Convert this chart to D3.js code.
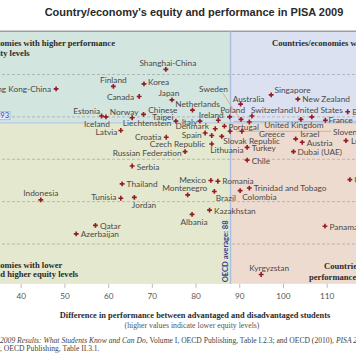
<!DOCTYPE html>
<html><head><meta charset="utf-8">
<script src="https://cdn.jsdelivr.net/npm/d3@7"></script>
<style>body{margin:0;background:#fff}svg{display:block}</style>
</head><body><svg id="c" width="356" height="364"></svg>
<script>
// ---------------- DATA ----------------
const countries = ["Shanghai-China","Finland","Korea","Hong Kong-China","Canada","Japan","Netherlands","Estonia","Iceland","Liechtenstein","Norway","Chinese Taipei","Sweden","Australia","Singapore","New Zealand","Poland","Switzerland","United Kingdom","Ireland","Denmark","Italy","Portugal","Slovenia","Greece","Germany","United States","France","Belgium","Israel","Austria","Luxembourg","Dubai (UAE)","Turkey","Chile","Croatia","Latvia","Spain","Czech Republic","Slovak Republic","Lithuania","Russian Federation","Serbia","Thailand","Tunisia","Jordan","Indonesia","Qatar","Azerbaijan","Mexico","Romania","Montenegro","Brazil","Colombia","Trinidad and Tobago","Kazakhstan","Albania","Panama","Kyrgyzstan","Uruguay"];
// Difference in performance between advantaged and disadvantaged students
const performanceGap = [73.2,61.2,68.2,48.1,67.1,74.6,79.3,58.5,59.5,65.5,68.1,75.5,90.4,90.3,97.3,103.4,87.8,92.9,92.3,85.2,81.0,84.5,86.6,87.9,90.6,104.1,106.6,109.7,114.8,102.9,104.4,114.4,102.4,91.8,91.8,73.3,62.9,82.2,83.7,86.0,83.7,77.6,65.5,63.2,62.9,66.0,44.6,57.1,52.7,83.5,85.1,78.2,84.3,90.2,92.3,83.2,79.2,109.6,95.0,115.3];
// Mean reading performance
const readingScore = [556,536,539,533,524,520,508,501,500,499,503,495,497,515,526,521,500,501,494,496,495,486,489,483,483,497,500,496,506,474,470,472,459,464,449,476,484,481,478,477,468,459,442,421,404,405,402,372,362,425,424,408,412,413,416,390,385,371,314,426];
const xTicks = [40,50,60,70,80,90,100,110];
const gridScores = [350,400,450,500,550];
const oecdGap = 88;
const oecdScore = 493;
const xExtent = [30,125];
const yExtent = [303,601];

// ---------------- LAYOUT ----------------
const x = d3.scaleLinear().domain([40,110]).range([20.7,326.7]);
const y = d3.scaleLinear().domain([350,550]).range([244,74.5]);
const LABEL_FONT = "Lato, 'Open Sans', sans-serif";
const SERIF = "'Liberation Serif', 'DejaVu Serif', serif";

// label placement: [anchor, dx, dy]
const labelLayout = {
 "Shanghai-China":["middle",2,-6.5],"Finland":["middle",0,-6.5],"Korea":["start",4,-2],
 "Hong Kong-China":["end",-5,0],"Canada":["end",-5,0],"Japan":["middle",-3,-7],
 "Netherlands":["middle",5,-6.5],"Estonia":["end",-1.5,-5],"Iceland":["middle",-9,7],
 "Liechtenstein":["middle",15,5.5],"Norway":["end",-5,-2],"Chinese Taipei":["middle",-13,-10.7,true],
 "Sweden":["middle",-27.5,-30],"Australia":["middle",8,-5.5],"Singapore":["start",3.3,-4.5],
 "New Zealand":["start",4.5,0],"Poland":["middle",3,-7],"Switzerland":["start",-1,-6],
 "United Kingdom":["start",15,3.5],"Ireland":["middle",-7,-5],"Italy":["end",-18,-7],
 "Denmark":["end",9,5],"Portugal":["start",4,1],"Greece":["start",17,2.5],"Slovenia":["start",103,0.5],
 "United States":["middle",6.5,-7],"France":["start",3,0],"Belgium":["start",4.5,0],
 "Israel":["start",4.5,-4.5],"Austria":["start",4.5,0.5],"Luxembourg":["start",5,0.5],
 "Dubai (UAE)":["start",4,0],"Turkey":["start",4.5,1],"Chile":["start",4.5,0.5],
 "Croatia":["end",-5,0],"Latvia":["end",-3.5,1.5],"Spain":["end",-3.5,2],
 "Czech Republic":["end",-6.5,8.5],"Slovak Republic":["start",1.5,4.8],"Lithuania":["start",-1.5,6],
 "Russian Federation":["end",-3.5,1.5],"Serbia":["start",4.5,0.5],"Thailand":["start",4.5,0],
 "Tunisia":["end",-4.5,-1],"Jordan":["start",-2.5,7.5],"Indonesia":["middle",0,-6.5],
 "Qatar":["start",4.5,0.5],"Azerbaijan":["start",4.5,0.5],"Mexico":["end",-5,-0.5],
 "Romania":["start",4.5,0],"Montenegro":["middle",-3,-6.5],"Brazil":["start",1.5,6.5],
 "Colombia":["start",2,6],"Trinidad and Tobago":["start",4.5,-0.5],"Kazakhstan":["start",4.5,0.5],
 "Albania":["middle",2,8],"Panama":["start",4.5,0.5],"Kyrgyzstan":["middle",8,-6.5],"Uruguay":["start",4.5,0]
};
// leader lines relative to dot: [x1,y1,x2,y2]
const leaderLayout = {
 "Sweden":[-18,-26,-2,-2],
 "Slovenia":[6,0,101,0],
 "United Kingdom":[-16,-0.5,120,-0.5]
};

const svg = d3.select("#c");
const data = countries.map((c,i)=>({name:c, gap:performanceGap[i], score:readingScore[i]}));

// quadrant backgrounds
const x0 = x(xExtent[0]), x1 = x(xExtent[1]), xm = x(oecdGap);
const yTop = y(yExtent[1]), yBot = y(yExtent[0]), ym = y(oecdScore);
const quads = [
 [x0,yTop,xm,ym,"#d2e5df"],[xm,yTop,x1,ym,"#dbe1f0"],
 [x0,ym,xm,yBot,"#e3e8ce"],[xm,ym,x1,yBot,"#eedbd0"]
];
svg.append("g").selectAll("rect").data(quads).join("rect")
 .attr("x",d=>d[0]).attr("y",d=>d[1]).attr("width",d=>d[2]-d[0]).attr("height",d=>d[3]-d[1]).attr("fill",d=>d[4]);

// top border
svg.append("line").attr("x1",x0).attr("x2",x1).attr("y1",yTop).attr("y2",yTop)
 .attr("stroke","#9d9d9d").attr("stroke-width",1.6);

// gridlines
svg.append("g").selectAll("line").data(gridScores).join("line")
 .attr("x1",x0).attr("x2",x1).attr("y1",d=>y(d)).attr("y2",d=>y(d))
 .attr("stroke","#a3a3a3").attr("stroke-width",0.7).attr("stroke-dasharray","3,2");

// OECD average lines
svg.append("line").attr("x1",xm).attr("x2",xm).attr("y1",yTop).attr("y2",yBot)
 .attr("stroke","#a9bde2").attr("stroke-width",1.4);
svg.append("line").attr("x1",x0).attr("x2",x1).attr("y1",ym).attr("y2",ym)
 .attr("stroke","#b6c8e6").attr("stroke-width",1.2);

// leader lines
svg.append("g").selectAll("line").data(data.filter(d=>leaderLayout[d.name])).join("line")
 .attr("x1",d=>x(d.gap)+leaderLayout[d.name][0]).attr("y1",d=>y(d.score)+leaderLayout[d.name][1])
 .attr("x2",d=>x(d.gap)+leaderLayout[d.name][2]).attr("y2",d=>y(d.score)+leaderLayout[d.name][3])
 .attr("stroke","#dba56e").attr("stroke-width",0.8);

// x axis
const ax = svg.append("g").attr("transform",`translate(0,${yBot})`)
 .call(d3.axisBottom(x).tickValues(xTicks).tickSize(4).tickPadding(5).tickFormat(d3.format("d")));
ax.select(".domain").remove();
ax.selectAll(".tick line").attr("stroke","#bbbbbb");
ax.selectAll(".tick text").attr("fill","#555").style("font-family",LABEL_FONT).style("font-size","8.2px");

// points
svg.append("g").selectAll("path").data(data).join("path")
 .attr("transform",d=>`translate(${x(d.gap)},${y(d.score)})`)
 .attr("d",d3.symbol(d3.symbolCross,13))
 .attr("fill","#951c22");

// labels
const lab = svg.append("g").style("font-family",LABEL_FONT).style("font-size","8.3px").attr("fill","#4a4a4a");
data.filter(d=>labelLayout[d.name]).forEach(d=>{
 const L = labelLayout[d.name];
 const t = lab.append("text").attr("x",x(d.gap)+L[1]).attr("y",y(d.score)+L[2])
  .attr("text-anchor",L[0]).attr("dominant-baseline","central");
 if (L[3]) {
  d.name.split(" ").forEach((w,i)=>t.append("tspan").attr("x",x(d.gap)+L[1]).attr("dy",i?7:0).text(w));
 } else t.text(d.name);
});

// helper: text partly cut at the left edge; visible part starts at vx
function cutText(parts, vx, yy, style) {
 const t = svg.append("text").attr("y",yy).attr("dominant-baseline","central");
 Object.entries(style).forEach(([k,v])=>t.style(k,v));
 const spans = parts.map(p=>{const s=t.append("tspan").text(p[0]); if(p[1]) s.style("font-style","italic"); return s;});
 const pre = spans[0].node().getComputedTextLength();
 t.attr("x", vx - pre);
 return t;
}
function styled(t, style){ Object.entries(style).forEach(([k,v])=>t.style(k,v)); return t; }
const regionStyle = {"font-family":SERIF,"font-weight":"bold","font-size":"8.6px","fill":"#2b2b2b"};
cutText([["Countries/econ"],["omies with higher performance"]],0.3,43.3,regionStyle);
cutText([["and higher equi"],["ty levels"]],0.3,52.5,regionStyle);
cutText([["Countries/econ"],["omies with lower"]],0.3,265,regionStyle);
cutText([["performance an"],["d higher equity levels"]],0.3,274.3,regionStyle);

// right-hand region labels (cut by right edge)
const tr1 = styled(svg.append("text").attr("x",272).attr("y",43.3).attr("dominant-baseline","central").text("Countries/economies with higher performance"), regionStyle);
const trEnd = 272 + tr1.node().getComputedTextLength();
styled(svg.append("text").attr("x",trEnd).attr("y",52.5).attr("text-anchor","end").attr("dominant-baseline","central").text("and lower equity levels"), regionStyle);
styled(svg.append("text").attr("x",324).attr("y",266).attr("dominant-baseline","central").text("Countries/economies with lower"), regionStyle);
styled(svg.append("text").attr("x",309).attr("y",277).attr("dominant-baseline","central").text("performance and lower equity levels"), regionStyle);

// 493 marker
svg.append("rect").attr("x",-12).attr("y",ym-11).attr("width",22).attr("height",8).attr("fill","#e4eaf7").attr("stroke","#7f96cc").attr("stroke-width",0.5);
svg.append("text").attr("x",9).attr("y",ym-7).attr("text-anchor","end").attr("dominant-baseline","central")
 .style("font-family",LABEL_FONT).style("font-size","7.5px").attr("fill","#2d44a0").text(oecdScore);

// OECD average vertical label
svg.append("text").attr("transform",`translate(${xm-5.5},${yBot-1.5}) rotate(-90)`)
 .attr("dominant-baseline","central")
 .style("font-family",LABEL_FONT).style("font-weight","bold").style("font-size","7.6px").attr("fill","#2d3f8e")
 .text("OECD average: " + oecdGap);

// title
svg.append("text").attr("x",194).attr("y",12).attr("text-anchor","middle").attr("dominant-baseline","central")
 .style("font-family","'Liberation Sans', Arial, sans-serif").style("font-weight","bold").style("font-size","11px").attr("fill","#2a2a2a")
 .text("Country/economy's equity and performance in PISA 2009");

// axis titles
svg.append("text").attr("x",195).attr("y",315.7).attr("text-anchor","middle").attr("dominant-baseline","central")
 .style("font-family",SERIF).style("font-weight","bold").style("font-size","8.4px").attr("fill","#2b2b2b")
 .text("Difference in performance between advantaged and disadvantaged students");
svg.append("text").attr("x",192).attr("y",325).attr("text-anchor","middle").attr("dominant-baseline","central")
 .style("font-family",SERIF).style("font-size","7.8px").attr("fill","#555")
 .text("(higher values indicate lower equity levels)");

// source
const srcStyle = {"font-family":SERIF,"font-size":"7.6px","fill":"#444"};
cutText([["Source: OECD (2010), PISA ",true],["2009 Results: What Students Know and Can Do",true],[", Volume I, OECD Publishing, Table I.2.3; and OECD (2010), "],["PISA 2009 Results: Overcoming Social Background",true]],0,340,srcStyle);
cutText([["Equity in Learning Opportunities and Outcomes (Volume II)",true],[", OECD Publishing, Table II.3.1."]],0,348.3,srcStyle);
</script></body></html>
